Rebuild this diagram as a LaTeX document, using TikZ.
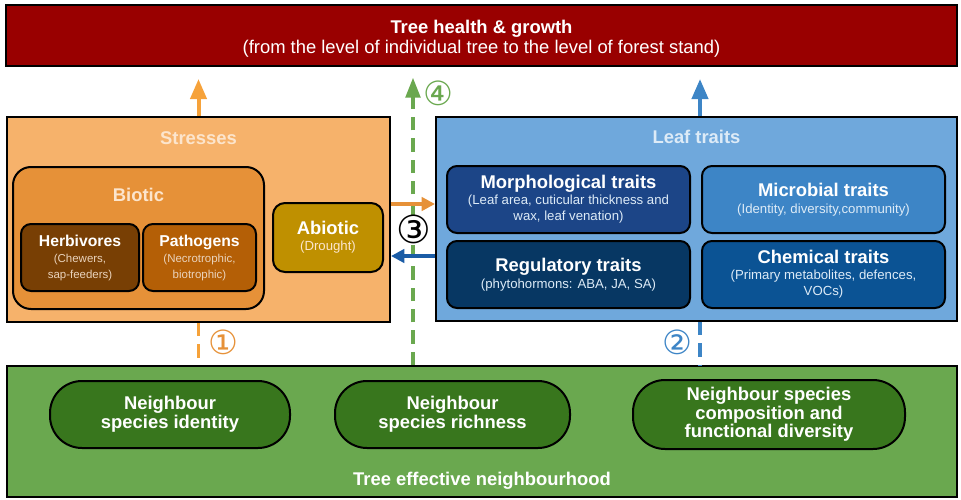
\documentclass[tikz,border=0pt]{standalone}
\usepackage{fontspec}
\setmainfont{Liberation Sans}
\newfontfamily\circfont{DejaVu Sans}
\usetikzlibrary{arrows.meta}

\definecolor{cHealth}{HTML}{990000}
\definecolor{cStress}{HTML}{F6B26B}
\definecolor{cBiotic}{HTML}{E69138}
\definecolor{cHerb}{HTML}{783F04}
\definecolor{cPath}{HTML}{B45F06}
\definecolor{cAbiotic}{HTML}{BF9000}
\definecolor{cLeaf}{HTML}{6FA8DC}
\definecolor{cMorph}{HTML}{1C4587}
\definecolor{cMicro}{HTML}{3D85C6}
\definecolor{cRegul}{HTML}{073763}
\definecolor{cChem}{HTML}{0B5394}
\definecolor{cNeigh}{HTML}{6AA84F}
\definecolor{cPill}{HTML}{38761D}
\definecolor{cOrange}{HTML}{F6A23A}
\definecolor{cBlue}{HTML}{3D85C6}
\definecolor{cBlueDark}{HTML}{1A5CA6}
\definecolor{cPale}{HTML}{FCE5CD}
\definecolor{cPaleBlue}{HTML}{DDEBF7}
\definecolor{cPaleBrown}{HTML}{EAD3BC}

\newcommand{\bigfont}{\fontsize{13.8}{15.8}\selectfont\bfseries}
\newcommand{\midfont}{\fontsize{11.8}{14}\selectfont\bfseries}
\newcommand{\subfont}{\fontsize{9.9}{11.3}\selectfont}
\newcommand{\smallfont}{\fontsize{8.6}{10.5}\selectfont}

\begin{document}
\begin{tikzpicture}[x=0.75pt,y=0.75pt,yscale=-1,xscale=1,
    box/.style={draw=black,line width=1.5pt,inner sep=0pt,align=center,text=white},
    trait/.style={box,rounded corners=7.5pt,minimum width=243*.75pt,minimum height=67*.75pt},
    pill/.style={box,fill=cPill,rounded corners=24pt,minimum height=67*.75pt},
    uparr/.style={line width=3pt,-{Triangle[width=12pt,length=15pt]},shorten >=9pt},
    sidearr/.style={line width=2.5pt,-{Triangle[width=10pt,length=10pt]}},
    link/.style={line width=2.5pt,dash pattern=on 10pt off 6pt},
    circnum/.style={inner sep=0pt,font=\circfont\fontsize{25}{25}\selectfont}]

    \useasboundingbox (0,0) rectangle (961,500);

    \node[box,fill=cHealth,minimum width=951*.75pt,minimum height=61*.75pt] (health) at (481.5,35.5) {};
    \node[align=center,text=white] (healthtitle) at (481.5,39)
        {\bigfont Tree health \& growth\\[1pt] \fontsize{13.8}{15.8}\selectfont(from the level of individual tree to the level of forest stand)};

    \node[box,fill=cStress,minimum width=383*.75pt,minimum height=205*.75pt] (stress) at (198.5,219.5) {};
    \node[text=cPale,font=\bigfont] (stresstitle) at (198.5,138) {Stresses};
    \node[box,fill=cBiotic,rounded corners=13.5pt,minimum width=251*.75pt,minimum height=142*.75pt] (biotic) at (138.5,238) {};
    \node[text=cPale,font=\bigfont] (biotictitle) at (138.5,195) {Biotic};
    \node[box,fill=cHerb,rounded corners=7.5pt,minimum width=118*.75pt,minimum height=67*.75pt] (herb) at (80,257.5)
        {\midfont Herbivores\\ \smallfont\color{cPaleBrown}(Chewers,\\ \smallfont\color{cPaleBrown}sap-feeders)};
    \node[box,fill=cPath,rounded corners=7.5pt,minimum width=113*.75pt,minimum height=67*.75pt] (path) at (199.5,257.5)
        {\midfont Pathogens\\ \smallfont\color{cPaleBrown}(Necrotrophic,\\ \smallfont\color{cPaleBrown}biotrophic)};
    \node[box,fill=cAbiotic,rounded corners=9pt,minimum width=110*.75pt,minimum height=69*.75pt] (abiotic) at (328,237.5)
        {\bigfont Abiotic\\ \subfont\color{cPale}(Drought)};

    \node[box,fill=cLeaf,minimum width=521*.75pt,minimum height=204*.75pt] (leaf) at (696.5,219) {};
    \node[text=cPaleBlue,font=\bigfont] (leaftitle) at (696.5,137) {Leaf traits};
    \node[trait,fill=cMorph] (morph) at (568.5,199.5)
        {\bigfont Morphological traits\\ \subfont\color{cPaleBlue}(Leaf area, cuticular thickness and\\ \subfont\color{cPaleBlue}wax, leaf venation)};
    \node[trait,fill=cMicro] (micro) at (823.5,199.5)
        {\bigfont Microbial traits\\[1pt] \subfont\color{cPaleBlue}(Identity, diversity,community)};
    \node[trait,fill=cRegul] (regul) at (568.5,274.5)
        {\bigfont Regulatory traits\\[1pt] \subfont\color{cPaleBlue}(phytohormons: ABA, JA, SA)};
    \node[trait,fill=cChem] (chem) at (823.5,274.5)
        {\bigfont Chemical traits\\ \subfont\color{cPaleBlue}(Primary metabolites, defences,\\ \subfont\color{cPaleBlue}VOCs)};

    \node[box,fill=cNeigh,minimum width=950*.75pt,minimum height=131*.75pt] (neigh) at (482,431.5) {};
    \node[text=white,font=\bigfont] (neightitle) at (482,481) {Tree effective neighbourhood};
    \node[pill,minimum width=240*.75pt] (ident) at (170,414.5) {\bigfont Neighbour\\ \bigfont species identity};
    \node[pill,minimum width=235*.75pt] (rich) at (452.5,414.5) {\bigfont Neighbour\\ \bigfont species richness};
    \node[pill,minimum width=272*.75pt,minimum height=69*.75pt] (comp) at (769,414.5)
        {\bigfont Neighbour species\\ \bigfont composition and\\ \bigfont functional diversity};

    \coordinate (gx) at (413,0);
    \coordinate (lx) at (700,0);
    \coordinate (rowA) at (0,204);
    \coordinate (rowB) at (0,256);

    \draw[link,color=cNeigh,-{Triangle[width=11pt,length=15pt]},shorten >=8pt] (neigh.north -| gx) -- (health.south -| gx);
    \draw[uparr,color=cOrange] (stress.north) -- (health.south -| stress.north);
    \draw[uparr,color=cBlue] (leaf.north -| lx) -- (health.south -| lx);
    \draw[link,color=cOrange] (stress.south) -- (neigh.north -| stress.south);
    \draw[link,color=cBlue] (leaf.south -| lx) -- (neigh.north -| lx);
    \draw[sidearr,color=cBiotic] (stress.east |- rowA) -- (leaf.west |- rowA);
    \draw[sidearr,color=cBlueDark] (leaf.west |- rowB) -- (stress.east |- rowB);

    \node[circnum,text=cBiotic] (n1) at (223,342) {①};
    \node[circnum,text=cBlue] (n2) at (677,342) {②};
    \node[circnum,fill=white,font=\circfont\fontsize{29}{29}\selectfont] (n3) at (414,229) {③};
    \node[circnum,text=cNeigh] (n4) at (438,93) {④};

\end{tikzpicture}
\end{document}
